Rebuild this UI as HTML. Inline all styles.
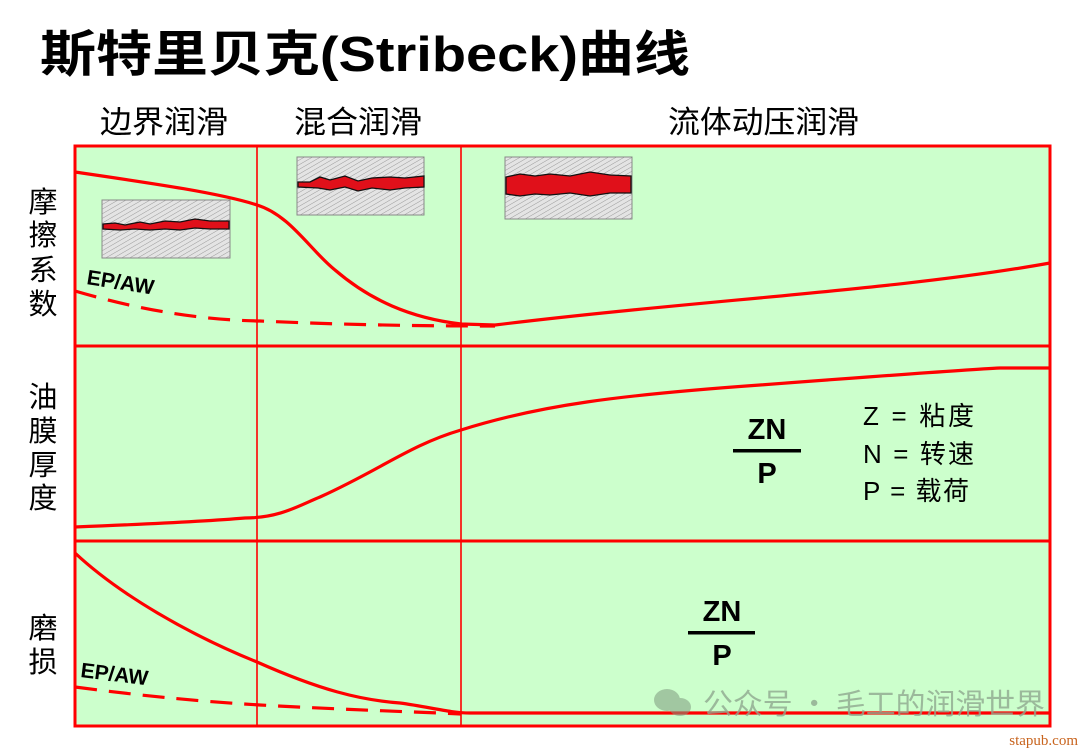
<!DOCTYPE html>
<html><head><meta charset="utf-8"><style>
html,body{margin:0;padding:0;background:#fff;}
body{width:1080px;height:748px;overflow:hidden;position:relative;font-family:"Liberation Sans","Noto Sans CJK SC",sans-serif;}
</style></head><body>
<svg width="1080" height="748" viewBox="0 0 1080 748" xmlns="http://www.w3.org/2000/svg" style="position:absolute;left:0;top:0">
<defs>
<pattern id="h" width="4" height="4" patternUnits="userSpaceOnUse" patternTransform="rotate(60)">
<rect width="4" height="4" fill="#e4e4e4"/><line x1="0" y1="0" x2="0" y2="4" stroke="#9a9a9a" stroke-width="1"/>
</pattern>
</defs>
<text x="40" y="71" font-family="'Liberation Sans','Noto Sans CJK SC',sans-serif" font-weight="bold" font-size="49" fill="#000" textLength="650" lengthAdjust="spacingAndGlyphs">斯特里贝克(Stribeck)曲线</text>
<g font-family="'Liberation Sans','Noto Sans CJK SC',sans-serif" font-size="31" fill="#000">
<text x="100" y="133" textLength="128" lengthAdjust="spacingAndGlyphs">边界润滑</text>
<text x="294" y="133" textLength="128" lengthAdjust="spacingAndGlyphs">混合润滑</text>
<text x="668" y="133" textLength="191" lengthAdjust="spacingAndGlyphs">流体动压润滑</text>
</g>
<g font-family="'Noto Sans CJK SC',sans-serif" font-size="29" fill="#000" text-anchor="middle">
<text x="43" y="212">摩</text><text x="43" y="245">擦</text><text x="43" y="280">系</text><text x="43" y="314">数</text>
<text x="43" y="407">油</text><text x="43" y="441">膜</text><text x="43" y="475">厚</text><text x="43" y="508">度</text>
<text x="43" y="638">磨</text><text x="43" y="672">损</text>
</g>
<rect x="75" y="146" width="975" height="580" fill="#ccffcc"/>
<g stroke="#ff0000" fill="none">
<line x1="257" y1="146" x2="257" y2="726" stroke-width="1.6"/>
<line x1="461" y1="146" x2="461" y2="726" stroke-width="1.6"/>
<line x1="75" y1="346" x2="1050" y2="346" stroke-width="3"/>
<line x1="75" y1="541" x2="1050" y2="541" stroke-width="3"/>
<rect x="75" y="146" width="975" height="580" stroke-width="3"/>
</g>
<rect x="102" y="200" width="128" height="58" fill="url(#h)" stroke="#888" stroke-width="1"/>
<path d="M103 224 L115 223 L125 225 L140 222 L150 224 L165 221 L180 222 L195 219 L210 221 L229 221 L229 229 L210 229 L195 228 L180 230 L165 229 L150 230 L135 229 L120 230 L103 229 Z" fill="#e0101a" stroke="#111" stroke-width="1.3"/>
<rect x="297" y="157" width="127" height="58" fill="url(#h)" stroke="#888" stroke-width="1"/>
<path d="M298 182 L310 182 L320 177 L330 180 L345 176 L358 181 L372 178 L390 177 L405 178 L424 176 L424 187 L405 188 L390 190 L372 188 L358 191 L345 187 L330 190 L318 188 L298 187 Z" fill="#e0101a" stroke="#111" stroke-width="1.3"/>
<rect x="505" y="157" width="127" height="62" fill="url(#h)" stroke="#888" stroke-width="1"/>
<path d="M506 177 L520 174 L535 176 L550 174 L570 176 L590 172 L610 175 L631 176 L631 193 L610 193 L590 196 L570 193 L550 195 L535 194 L520 196 L506 194 Z" fill="#e0101a" stroke="#111" stroke-width="1.3"/>
<g stroke="#ff0000" stroke-width="3.2" fill="none">
<path d="M75 172 C150 183 220 193 257 205 C290 215 310 250 335 270 C370 300 410 318 461 324 L495 325 C700 300 900 290 1050 263"/>
<path d="M75 291 C140 310 200 320 260 321 C350 325 420 326 495 326" stroke-dasharray="22 12"/>
<path d="M75 527 C150 524 210 521 245 518 C280 518 300 505 320 497 C380 470 410 445 461 430 C540 405 620 395 760 385 C880 376 960 370 1000 368 L1050 368"/>
<path d="M75 553 C120 595 190 635 257 662 C320 690 360 700 400 703 C430 707 450 713 470 713 L1050 713"/>
<path d="M75 687 C150 697 210 702 260 705 C350 710 420 712 461 714" stroke-dasharray="22 12"/>
</g>
<g font-family="'Liberation Sans',sans-serif" font-weight="bold" font-size="21" fill="#000">
<text x="86" y="284" transform="rotate(9 86 284)">EP/AW</text>
<text x="80" y="677" transform="rotate(7 80 677)">EP/AW</text>
</g>
<g font-family="'Liberation Sans',sans-serif" font-weight="bold" font-size="29" fill="#000" text-anchor="middle">
<text x="767" y="439">ZN</text><text x="767" y="483">P</text>
<text x="722" y="621">ZN</text><text x="722" y="665">P</text>
</g>
<rect x="733" y="449" width="68" height="3.5" fill="#000"/>
<rect x="688" y="631" width="67" height="3.5" fill="#000"/>
<g font-family="'Liberation Sans','Noto Sans CJK SC',sans-serif" font-size="26" fill="#000">
<text x="863" y="425" textLength="111" lengthAdjust="spacing">Z = 粘度</text>
<text x="863" y="463" textLength="111" lengthAdjust="spacing">N = 转速</text>
<text x="863" y="500" textLength="106" lengthAdjust="spacing">P = 载荷</text>
</g>
<g fill="#7f9a7f" opacity="0.55">
<ellipse cx="667" cy="700" rx="13" ry="11"/><ellipse cx="680" cy="707" rx="11" ry="9"/>
</g>
<text x="703" y="714" font-family="'Noto Sans CJK SC',sans-serif" font-size="29" fill="#8fa88f" opacity="0.8" textLength="342" lengthAdjust="spacingAndGlyphs">公众号 · 毛工的润滑世界</text>
<text x="1078" y="745" text-anchor="end" font-family="'Liberation Serif',serif" font-size="15" fill="#c8641e">stapub.com</text>
</svg>
</body></html>
